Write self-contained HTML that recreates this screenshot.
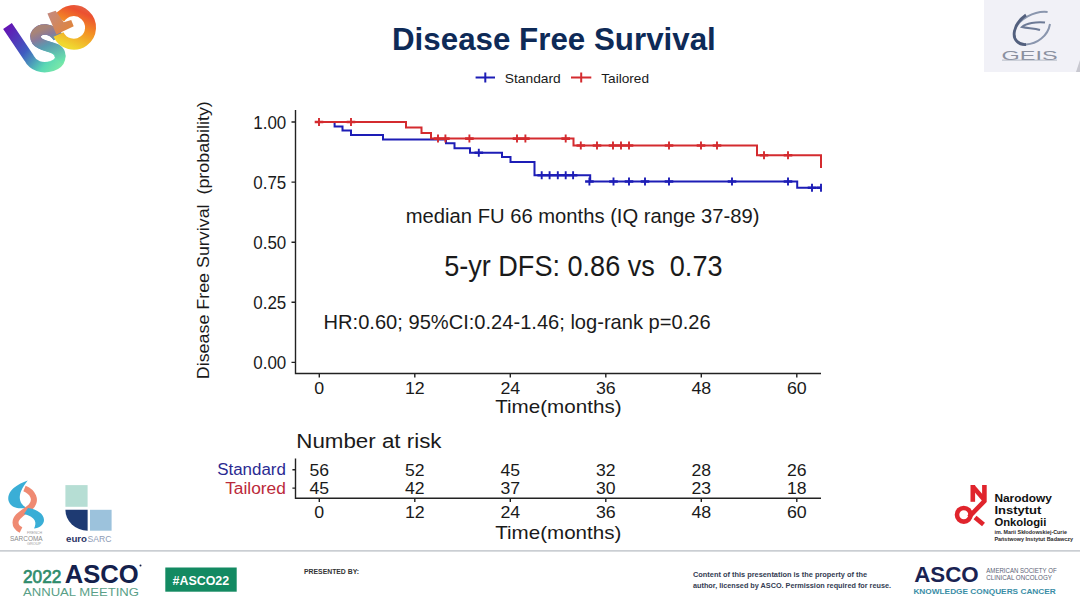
<!DOCTYPE html>
<html><head><meta charset="utf-8"><style>
html,body{margin:0;padding:0;background:#fff;}
body{width:1080px;height:608px;overflow:hidden;position:relative;font-family:"Liberation Sans",sans-serif;}
svg{position:absolute;left:0;top:0;}
</style></head><body>
<svg width="1080" height="608" viewBox="0 0 1080 608" font-family="Liberation Sans, sans-serif">
<defs>
<linearGradient id="isg" x1="0" y1="0" x2="1" y2="1">
<stop offset="0" stop-color="#6a1bb0"/><stop offset="0.35" stop-color="#3a7ac0"/><stop offset="0.55" stop-color="#5ee0b0"/><stop offset="0.75" stop-color="#f2d02a"/><stop offset="1" stop-color="#f04a2a"/>
</linearGradient>
</defs>
<text x="392.0" y="49.7" font-size="31.5" text-anchor="start" fill="#0e2a57" font-weight="bold" textLength="323.8" lengthAdjust="spacingAndGlyphs" >Disease Free Survival</text>
<path d="M475.6 77.5 H495 M485.3 72.5 V82.5" stroke="#1d1db6" stroke-width="2"/><text x="504.8" y="82.6" font-size="13.4" text-anchor="start" fill="#1a1a1a" font-weight="normal" textLength="56" lengthAdjust="spacingAndGlyphs" >Standard</text>
<path d="M571 77.5 H591.3 M581.2 72.5 V82.5" stroke="#d42b2f" stroke-width="2"/><text x="601.3" y="82.6" font-size="13.4" text-anchor="start" fill="#1a1a1a" font-weight="normal" textLength="47.7" lengthAdjust="spacingAndGlyphs" >Tailored</text>
<path d="M295.5 110 V373.5 H821" fill="none" stroke="#222" stroke-width="1.4"/><text x="286.3" y="128.6" font-size="17.6" text-anchor="end" fill="#1a1a1a" font-weight="normal" textLength="33" lengthAdjust="spacingAndGlyphs" >1.00</text>
<text x="286.3" y="188.7" font-size="17.6" text-anchor="end" fill="#1a1a1a" font-weight="normal" textLength="33" lengthAdjust="spacingAndGlyphs" >0.75</text>
<text x="286.3" y="248.79999999999998" font-size="17.6" text-anchor="end" fill="#1a1a1a" font-weight="normal" textLength="33" lengthAdjust="spacingAndGlyphs" >0.50</text>
<text x="286.3" y="308.90000000000003" font-size="17.6" text-anchor="end" fill="#1a1a1a" font-weight="normal" textLength="33" lengthAdjust="spacingAndGlyphs" >0.25</text>
<text x="286.3" y="369.0" font-size="17.6" text-anchor="end" fill="#1a1a1a" font-weight="normal" textLength="33" lengthAdjust="spacingAndGlyphs" >0.00</text>
<text x="319.3" y="393.5" font-size="17" text-anchor="middle" fill="#1a1a1a" font-weight="normal" textLength="9.9" lengthAdjust="spacingAndGlyphs" >0</text>
<text x="414.8" y="393.5" font-size="17" text-anchor="middle" fill="#1a1a1a" font-weight="normal" textLength="19.8" lengthAdjust="spacingAndGlyphs" >12</text>
<text x="510.3" y="393.5" font-size="17" text-anchor="middle" fill="#1a1a1a" font-weight="normal" textLength="19.8" lengthAdjust="spacingAndGlyphs" >24</text>
<text x="605.8" y="393.5" font-size="17" text-anchor="middle" fill="#1a1a1a" font-weight="normal" textLength="19.8" lengthAdjust="spacingAndGlyphs" >36</text>
<text x="701.3" y="393.5" font-size="17" text-anchor="middle" fill="#1a1a1a" font-weight="normal" textLength="19.8" lengthAdjust="spacingAndGlyphs" >48</text>
<text x="796.8" y="393.5" font-size="17" text-anchor="middle" fill="#1a1a1a" font-weight="normal" textLength="19.8" lengthAdjust="spacingAndGlyphs" >60</text>
<path d="M291.5 122.0 H295.5 M291.5 182.1 H295.5 M291.5 242.2 H295.5 M291.5 302.3 H295.5 M291.5 362.4 H295.5 M319.3 373.5 V377.5 M414.8 373.5 V377.5 M510.3 373.5 V377.5 M605.8 373.5 V377.5 M701.3 373.5 V377.5 M796.8 373.5 V377.5 " fill="none" stroke="#222" stroke-width="1.4"/><text x="495.2" y="413.2" font-size="18.4" text-anchor="start" fill="#1a1a1a" font-weight="normal" textLength="126.4" lengthAdjust="spacingAndGlyphs" >Time(months)</text>
<text transform="translate(209.3 379.2) rotate(-90)" x="0" y="0" font-size="16.5" fill="#1a1a1a" textLength="278" lengthAdjust="spacingAndGlyphs">Disease Free Survival&#160; (probability)</text><text x="405.8" y="222.5" font-size="19.3" text-anchor="start" fill="#1a1a1a" font-weight="normal" textLength="353.7" lengthAdjust="spacingAndGlyphs" >median FU 66 months (IQ range 37-89)</text>
<text x="444.2" y="276.2" font-size="29.5" text-anchor="start" fill="#1a1a1a" font-weight="normal" textLength="278.3" lengthAdjust="spacingAndGlyphs" >5-yr DFS: 0.86 vs&#160; 0.73</text>
<text x="323.6" y="329.2" font-size="21" text-anchor="start" fill="#1a1a1a" font-weight="normal" textLength="387" lengthAdjust="spacingAndGlyphs" >HR:0.60; 95%CI:0.24-1.46; log-rank p=0.26</text>
<path d="M319.0 122.0 H334.6 V126.6 H342.5 V130.6 H351.0 V134.9 H383.0 V139.4 H446.0 V143.2 H454.5 V148.2 H470.0 V152.8 H502.0 V157.1 H510.5 V162.1 H534.5 V175.3 H590.2 V181.5 H797.2 V187.8 H821.0" fill="none" stroke="#1d1db6" stroke-width="2"/><path d="M478.8 148.8 V156.8 M541.7 171.3 V179.3 M549.6 171.3 V179.3 M557.8 171.3 V179.3 M565.7 171.3 V179.3 M573.1 171.3 V179.3 M589.4 177.5 V185.5 M613.5 177.5 V185.5 M629.0 177.5 V185.5 M645.0 177.5 V185.5 M669.0 177.5 V185.5 M732.0 177.5 V185.5 M788.0 177.5 V185.5 M812.0 183.8 V191.8 M821.0 183.8 V191.8 " fill="none" stroke="#1d1db6" stroke-width="1.9"/><path d="M474.5 152.8 H483.1 M537.4 175.3 H546.0 M545.3 175.3 H553.9 M553.5 175.3 H562.1 M561.4 175.3 H570.0 M568.8 175.3 H577.4 M585.1 181.5 H593.7 M609.2 181.5 H617.8 M624.7 181.5 H633.3 M640.7 181.5 H649.3 M664.7 181.5 H673.3 M727.7 181.5 H736.3 M783.7 181.5 H792.3 M807.7 187.8 H816.3 M816.7 187.8 H821.5 " fill="none" stroke="#1d1db6" stroke-width="2.6"/><path d="M319.0 122.0 H406.0 V127.4 H421.5 V133.0 H431.0 V138.6 H573.5 V145.5 H757.0 V155.2 H821.0 V168.1" fill="none" stroke="#d42b2f" stroke-width="2"/><path d="M319.0 118.0 V126.0 M351.0 118.0 V126.0 M438.0 134.6 V142.6 M445.4 134.6 V142.6 M469.4 134.6 V142.6 M517.0 134.6 V142.6 M525.4 134.6 V142.6 M565.7 134.6 V142.6 M580.8 141.5 V149.5 M597.0 141.5 V149.5 M613.0 141.5 V149.5 M621.0 141.5 V149.5 M629.0 141.5 V149.5 M669.0 141.5 V149.5 M701.0 141.5 V149.5 M717.0 141.5 V149.5 M764.0 151.2 V159.2 M788.0 151.2 V159.2 " fill="none" stroke="#d42b2f" stroke-width="1.9"/><path d="M314.7 122.0 H323.3 M346.7 122.0 H355.3 M433.7 138.6 H442.3 M441.1 138.6 H449.7 M465.1 138.6 H473.7 M512.7 138.6 H521.3 M521.1 138.6 H529.7 M561.4 138.6 H570.0 M576.5 145.5 H585.1 M592.7 145.5 H601.3 M608.7 145.5 H617.3 M616.7 145.5 H625.3 M624.7 145.5 H633.3 M664.7 145.5 H673.3 M696.7 145.5 H705.3 M712.7 145.5 H721.3 M759.7 155.2 H768.3 M783.7 155.2 H792.3 " fill="none" stroke="#d42b2f" stroke-width="2.6"/><text x="296.3" y="447.6" font-size="19.5" text-anchor="start" fill="#1a1a1a" font-weight="normal" textLength="145.2" lengthAdjust="spacingAndGlyphs" >Number at risk</text>
<path d="M295.5 458.5 V498.3 H821 M292.4 469.8 H295.5 M292.4 488.1 H295.5" fill="none" stroke="#222" stroke-width="1.4"/><text x="285.9" y="475.0" font-size="16.0" text-anchor="end" fill="#2b2b92" font-weight="normal" textLength="68.7" lengthAdjust="spacingAndGlyphs" >Standard</text>
<text x="285.9" y="493.8" font-size="16.0" text-anchor="end" fill="#bb2a3a" font-weight="normal" textLength="60.7" lengthAdjust="spacingAndGlyphs" >Tailored</text>
<text x="319.3" y="475.7" font-size="16.8" text-anchor="middle" fill="#1a1a1a" font-weight="normal" textLength="19.6" lengthAdjust="spacingAndGlyphs" >56</text>
<text x="319.3" y="493.6" font-size="16.8" text-anchor="middle" fill="#1a1a1a" font-weight="normal" textLength="19.6" lengthAdjust="spacingAndGlyphs" >45</text>
<text x="319.3" y="518.3" font-size="17" text-anchor="middle" fill="#1a1a1a" font-weight="normal" textLength="9.9" lengthAdjust="spacingAndGlyphs" >0</text>
<text x="414.8" y="475.7" font-size="16.8" text-anchor="middle" fill="#1a1a1a" font-weight="normal" textLength="19.6" lengthAdjust="spacingAndGlyphs" >52</text>
<text x="414.8" y="493.6" font-size="16.8" text-anchor="middle" fill="#1a1a1a" font-weight="normal" textLength="19.6" lengthAdjust="spacingAndGlyphs" >42</text>
<text x="414.8" y="518.3" font-size="17" text-anchor="middle" fill="#1a1a1a" font-weight="normal" textLength="19.8" lengthAdjust="spacingAndGlyphs" >12</text>
<text x="510.3" y="475.7" font-size="16.8" text-anchor="middle" fill="#1a1a1a" font-weight="normal" textLength="19.6" lengthAdjust="spacingAndGlyphs" >45</text>
<text x="510.3" y="493.6" font-size="16.8" text-anchor="middle" fill="#1a1a1a" font-weight="normal" textLength="19.6" lengthAdjust="spacingAndGlyphs" >37</text>
<text x="510.3" y="518.3" font-size="17" text-anchor="middle" fill="#1a1a1a" font-weight="normal" textLength="19.8" lengthAdjust="spacingAndGlyphs" >24</text>
<text x="605.8" y="475.7" font-size="16.8" text-anchor="middle" fill="#1a1a1a" font-weight="normal" textLength="19.6" lengthAdjust="spacingAndGlyphs" >32</text>
<text x="605.8" y="493.6" font-size="16.8" text-anchor="middle" fill="#1a1a1a" font-weight="normal" textLength="19.6" lengthAdjust="spacingAndGlyphs" >30</text>
<text x="605.8" y="518.3" font-size="17" text-anchor="middle" fill="#1a1a1a" font-weight="normal" textLength="19.8" lengthAdjust="spacingAndGlyphs" >36</text>
<text x="701.3" y="475.7" font-size="16.8" text-anchor="middle" fill="#1a1a1a" font-weight="normal" textLength="19.6" lengthAdjust="spacingAndGlyphs" >28</text>
<text x="701.3" y="493.6" font-size="16.8" text-anchor="middle" fill="#1a1a1a" font-weight="normal" textLength="19.6" lengthAdjust="spacingAndGlyphs" >23</text>
<text x="701.3" y="518.3" font-size="17" text-anchor="middle" fill="#1a1a1a" font-weight="normal" textLength="19.8" lengthAdjust="spacingAndGlyphs" >48</text>
<text x="796.8" y="475.7" font-size="16.8" text-anchor="middle" fill="#1a1a1a" font-weight="normal" textLength="19.6" lengthAdjust="spacingAndGlyphs" >26</text>
<text x="796.8" y="493.6" font-size="16.8" text-anchor="middle" fill="#1a1a1a" font-weight="normal" textLength="19.6" lengthAdjust="spacingAndGlyphs" >18</text>
<text x="796.8" y="518.3" font-size="17" text-anchor="middle" fill="#1a1a1a" font-weight="normal" textLength="19.8" lengthAdjust="spacingAndGlyphs" >60</text>
<path d="M319.3 498.3 V502 M414.8 498.3 V502 M510.3 498.3 V502 M605.8 498.3 V502 M701.3 498.3 V502 M796.8 498.3 V502 " fill="none" stroke="#222" stroke-width="1.4"/><text x="495.2" y="539.2" font-size="18.4" text-anchor="start" fill="#1a1a1a" font-weight="normal" textLength="126.2" lengthAdjust="spacingAndGlyphs" >Time(months)</text>

<!-- footer line -->
<rect x="0" y="550.3" width="1080" height="1.2" fill="#b4b9c0"/>

<!-- ISG logo -->
<defs>
<linearGradient id="gI" gradientUnits="userSpaceOnUse" x1="8" y1="25" x2="60" y2="68">
<stop offset="0" stop-color="#6414b4"/><stop offset="0.45" stop-color="#3f5cc0"/><stop offset="0.8" stop-color="#5ad8b4"/><stop offset="1" stop-color="#7ae8a8"/>
</linearGradient>
<linearGradient id="gS" gradientUnits="userSpaceOnUse" x1="60" y1="62" x2="45" y2="28">
<stop offset="0" stop-color="#6ae4ac"/><stop offset="0.55" stop-color="#5a9ab0"/><stop offset="0.8" stop-color="#8a7a9a"/><stop offset="1" stop-color="#a88478"/>
</linearGradient>
<linearGradient id="gG" gradientUnits="userSpaceOnUse" x1="48" y1="12" x2="72" y2="30">
<stop offset="0" stop-color="#c48a80"/><stop offset="1" stop-color="#e0843a"/>
</linearGradient>
<linearGradient id="gG2" gradientUnits="userSpaceOnUse" x1="68" y1="46" x2="86" y2="4">
<stop offset="0" stop-color="#f0d830"/><stop offset="0.45" stop-color="#f39024"/><stop offset="0.8" stop-color="#ec5030"/><stop offset="1" stop-color="#e06a50"/>
</linearGradient>
</defs>
<path d="M7.5 26 L29 58 C33 66, 42 69, 52 66 C61 63, 63 55, 56 50 C50 46, 41 46, 37 41 C33 35, 38 29, 46 29.5 C52 30, 55 33, 58 37" fill="none" stroke="url(#gI)" stroke-width="10.5" stroke-linecap="butt"/>
<path d="M58 60 C62 56, 60 51, 56 49 C50 46, 41 46, 37 41 C33 35, 38 29, 46 29.5 C52 30, 55 33, 58 37" fill="none" stroke="url(#gS)" stroke-width="10.5"/>
<path d="M58.5 34.5 A16.8 16.8 0 1 0 59.5 18.5" fill="none" stroke="url(#gG2)" stroke-width="11"/>
<path d="M47.4 13.6 L55.6 10.7 L63.8 22.2 L71.2 20.1 L73.7 26.3 L56.4 34.5 Z" fill="url(#gG)"/>
<!-- GEIS -->
<rect x="984" y="0" width="96" height="72" fill="#f1f1f7"/>
<path d="M1076 72 L1080 60 L1080 72 Z" fill="#c8c8d0"/>
<path d="M1047.6 12 C1035 10.5, 1018 19, 1014.5 31 C1012.5 40, 1019 45, 1026 44.5 C1037 44, 1048 36, 1050 24" fill="none" stroke="#8a96ae" stroke-width="2"/>
<path d="M1026 15 C1020 19, 1016 24, 1014.5 31 C1012.5 40, 1019 45, 1026 44.5" fill="none" stroke="#53607e" stroke-width="2.8"/>
<path d="M1045 22.5 C1036 21.5, 1026 23.5, 1022 27 C1028 28.5, 1034 28, 1040 30" fill="none" stroke="#6d7a96" stroke-width="2"/>
<text x="1001.6" y="59.8" font-size="12.5" fill="#8a90a0" textLength="56" lengthAdjust="spacingAndGlyphs">GEIS</text>
<rect x="1002" y="59.5" width="55" height="1.3" fill="#a4aab8" opacity="0.6"/>
<!-- French Sarcoma Group -->
<path d="M27.7 480.5 C14 485, 5 494, 9.5 503 C12 508, 20 509.5, 26 507.5 C19 503, 16 495, 27.7 480.5 Z" fill="#3aaed6"/>
<path d="M24.5 488.5 C33 492, 37 500, 31 506.5 C24 512.5, 15.5 516, 15.5 522.5 C15.5 526, 18 528.5, 21 530" fill="none" stroke="#ef8a72" stroke-width="6"/>
<path d="M28 508 C37 509, 44 514, 44 520 C44 525, 39 528, 34 528.5 C37 523, 36 517, 24 514 Z" fill="#3aaed6"/>
<text x="27" y="533.8" font-size="3.6" fill="#9a9a9a" textLength="15" lengthAdjust="spacingAndGlyphs">FRENCH</text>
<text x="10" y="540.5" font-size="7" fill="#8a8a8a" textLength="32.6" lengthAdjust="spacingAndGlyphs">SARCOMA</text>
<text x="27" y="545" font-size="3.6" fill="#9a9a9a" textLength="14" lengthAdjust="spacingAndGlyphs">GROUP</text>

<!-- euroSARC -->
<rect x="65.4" y="485.1" width="22.2" height="21.7" fill="#b6ded4"/>
<path d="M65.4 509.8 H87.6 V530.7 A22.2 20.9 0 0 1 65.4 509.8 Z" fill="#1e3a72"/>
<rect x="90" y="509.8" width="21.6" height="20.9" fill="#9cc2dc"/>
<text x="66" y="541.8" font-size="9" font-weight="bold" fill="#2c3566" textLength="21" lengthAdjust="spacingAndGlyphs">euro</text>
<text x="87.5" y="541.8" font-size="9" fill="#8d9bb6" textLength="24" lengthAdjust="spacingAndGlyphs">SARC</text>

<!-- NIO -->
<g fill="none" stroke="#e0242c" stroke-width="4.6">
<path d="M972.8 485 V501.8"/>
<path d="M972.8 486.5 L984.4 500"/>
<path d="M984.4 484.9 V501 L969 517"/>
<circle cx="963.8" cy="514.8" r="6.8"/>
<path d="M975 517.5 L983.5 524.5"/>
</g>
<text x="994.4" y="502.4" font-size="10.8" font-weight="bold" fill="#111" textLength="57.5" lengthAdjust="spacingAndGlyphs">Narodowy</text>
<text x="994.4" y="513.8" font-size="10.8" font-weight="bold" fill="#111" textLength="47" lengthAdjust="spacingAndGlyphs">Instytut</text>
<text x="994.4" y="525.5" font-size="10.8" font-weight="bold" fill="#111" textLength="52" lengthAdjust="spacingAndGlyphs">Onkologii</text>
<text x="994.4" y="534.3" font-size="5" font-weight="bold" fill="#2a2a2a" textLength="72.5" lengthAdjust="spacingAndGlyphs">im. Marii Skłodowskiej-Curie</text>
<text x="994.4" y="541.1" font-size="5" font-weight="bold" fill="#2a2a2a" textLength="78.6" lengthAdjust="spacingAndGlyphs">Państwowy Instytut Badawczy</text>

<!-- #ASCO22 -->
<rect x="165.3" y="567.5" width="71.4" height="24.2" fill="#138a62"/>
<text x="172.5" y="584.7" font-size="12.5" font-weight="bold" fill="#fff" textLength="56.7" lengthAdjust="spacingAndGlyphs">#ASCO22</text>
<text x="23" y="582.9" font-size="17.5" fill="#2f8c6c" stroke="#2f8c6c" stroke-width="0.7" textLength="38.3" lengthAdjust="spacingAndGlyphs">2022</text>
<text x="64.8" y="582.9" font-size="26.5" font-weight="bold" fill="#14214c" textLength="74" lengthAdjust="spacingAndGlyphs">ASCO</text>
<circle cx="140.5" cy="565.5" r="1" fill="#14214c"/>
<text x="23" y="596.3" font-size="10.8" fill="#5a9f88" textLength="116" lengthAdjust="spacingAndGlyphs">ANNUAL MEETING</text>
<text x="304" y="574" font-size="7" font-weight="bold" fill="#333" textLength="55" lengthAdjust="spacingAndGlyphs">PRESENTED  BY:</text>
<text x="693" y="577.4" font-size="7.2" font-weight="bold" fill="#333c52" textLength="174" lengthAdjust="spacingAndGlyphs">Content of this presentation is the property of the</text>
<text x="693" y="587.8" font-size="7.2" font-weight="bold" fill="#333c52" textLength="198" lengthAdjust="spacingAndGlyphs">author, licensed by ASCO. Permission required for reuse.</text>
<text x="914.2" y="582.4" font-size="22.8" font-weight="bold" fill="#1a2352" textLength="64.5" lengthAdjust="spacingAndGlyphs">ASCO</text>
<text x="986.3" y="573.2" font-size="6.6" fill="#5a6275" textLength="70.3" lengthAdjust="spacingAndGlyphs">AMERICAN SOCIETY OF</text>
<text x="986.3" y="580.2" font-size="6.6" fill="#5a6275" textLength="65.6" lengthAdjust="spacingAndGlyphs">CLINICAL ONCOLOGY</text>
<text x="913.4" y="593.9" font-size="7.4" font-weight="bold" fill="#3a8ea6" textLength="142.4" lengthAdjust="spacingAndGlyphs">KNOWLEDGE CONQUERS CANCER</text>
</svg>
</body></html>
